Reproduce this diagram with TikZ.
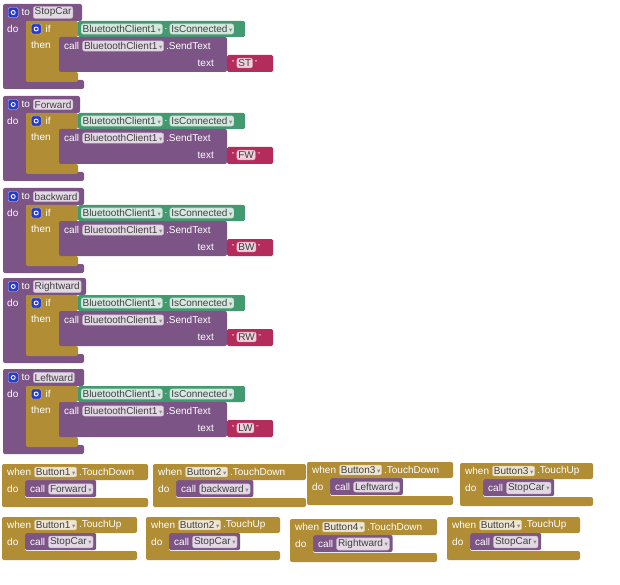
\documentclass[tikz,border=0pt]{standalone}
\usepackage{fontspec}
\setmainfont{Liberation Sans}
\newfontfamily\symfont{DejaVu Sans}
\usetikzlibrary{positioning,backgrounds}

\definecolor{procpurple}{RGB}{124,84,134}
\definecolor{ctrlgold}{RGB}{177,142,53}
\definecolor{compgreen}{RGB}{67,153,112}
\definecolor{textred}{RGB}{180,44,92}
\definecolor{gearblue}{RGB}{40,60,200}

\newcommand{\dd}{\,{\symfont\fontsize{6.5}{6.5}\selectfont\color{black!45}▾}}

\begin{document}
\begin{tikzpicture}[x=1pt,y=-1pt,
every node/.style={font=\fontsize{10}{11}\selectfont},
kw/.style={text=white,inner sep=1pt,anchor=west},
pill/.style={fill=#1!22!white,draw=#1!45!white,rounded corners=2pt,inner sep=1.4pt,text=black!75,anchor=west},
gear/.style={fill=gearblue,draw=white!75!gearblue,minimum size=10pt,inner sep=0pt,rounded corners=1.5pt,anchor=west}]
\begin{pgfonlayer}{background}
\fill[white] (0,0) rectangle (620,585);
\end{pgfonlayer}
\useasboundingbox (0,0) rectangle (620,585);

% procedures
\foreach \y/\pname/\msg/\hw in {4/StopCar/ST/82,96/Forward/FW/80,188/backward/BW/84,278/Rightward/RW/86,369/Leftward/LW/84}{
\fill[procpurple,rounded corners=2pt] (3,\y) -- (\hw,\y) -- (\hw,\y+17) -- (26,\y+17) -- (26,\y+76) -- (84,\y+76) -- (84,\y+85) -- (3,\y+85) -- cycle;
\node[gear] (gear-\pname) at (8,\y+8.5) {};
\draw[white,line width=.9pt] (gear-\pname.center) circle (2pt);
\node[kw,right=2pt of gear-\pname] (to-\pname) {to};
\node[pill=procpurple,right=2pt of to-\pname] (name-\pname) {\pname};
\node[kw] (do-\pname) at (6,\y+25) {do};
\fill[ctrlgold,rounded corners=2pt] (26,\y+17) -- (78,\y+17) -- (78,\y+33) -- (60,\y+33) -- (60,\y+68) -- (78,\y+68) -- (78,\y+78) -- (26,\y+78) -- cycle;
\node[gear] (ifgear-\pname) at (31,\y+25) {};
\draw[white,line width=.9pt] (ifgear-\pname.center) circle (2pt);
\node[kw,right=3pt of ifgear-\pname] (if-\pname) {if};
\node[kw] (then-\pname) at (30,\y+41) {then};
% condition
\fill[compgreen,rounded corners=1.5pt] (78,\y+17) rectangle (245,\y+33);
\node[pill=compgreen] (bt-\pname) at (81,\y+25) {BluetoothClient1\dd};
\node[kw,right=1pt of bt-\pname] (dot-\pname) {.};
\node[pill=compgreen,right=1pt of dot-\pname] (conn-\pname) {IsConnected\dd};
% send
\fill[procpurple,rounded corners=2pt] (59,\y+33) rectangle (227,\y+68);
\node[kw] (call-\pname) at (63,\y+42) {call};
\node[pill=procpurple,right=2pt of call-\pname] (bc-\pname) {BluetoothClient1\dd};
\node[kw,right=1pt of bc-\pname] (send-\pname) {.SendText};
\node[kw,anchor=east] (text-\pname) at (215,\y+59.5) {text};
\fill[textred,rounded corners=1.5pt] (227,\y+51) rectangle (273,\y+68);
\node[kw] (qa-\pname) at (231,\y+59) {\fontsize{7}{7}\selectfont"};
\node[pill=textred,right=1pt of qa-\pname] (msg-\pname) {\msg};
\node[kw,right=1pt of msg-\pname] (qb-\pname) {\fontsize{7}{7}\selectfont"};
}

% events
\foreach \xl/\yt/\xr/\btn/\evt/\proc [count=\i] in {2/464/148/Button1/TouchDown/Forward,153/464/306/Button2/TouchDown/backward,307/462/453/Button3/TouchDown/Leftward,460/463/593/Button3/TouchUp/StopCar,2/517/137/Button1/TouchUp/StopCar,146/517/280/Button2/TouchUp/StopCar,290/519/437/Button4/TouchDown/Rightward,447/517/580/Button4/TouchUp/StopCar}{
\fill[ctrlgold,rounded corners=2pt] (\xl,\yt) -- (\xr,\yt) -- (\xr,\yt+16) -- (\xl+23,\yt+16) -- (\xl+23,\yt+34) -- (\xr,\yt+34) -- (\xr,\yt+43) -- (\xl,\yt+43) -- cycle;
\node[kw] (when\i) at (\xl+4,\yt+8) {when};
\node[pill=ctrlgold,right=2pt of when\i] (btn\i) {\btn\dd};
\node[kw,right=1pt of btn\i] (evt\i) {.\evt};
\node[kw] (do\i) at (\xl+4,\yt+25) {do};
\node[kw] (call\i) at (\xl+27,\yt+25) {call};
\node[pill=procpurple,right=2pt of call\i] (proc\i) {\proc\dd};
\coordinate (cb\i) at (\xl+23,\yt+33);
\begin{pgfonlayer}{background}
\fill[procpurple,rounded corners=2pt] (\xl+23,\yt+16) rectangle ([xshift=3pt]proc\i.east |- cb\i);
\end{pgfonlayer}
}
\end{tikzpicture}
\end{document}
